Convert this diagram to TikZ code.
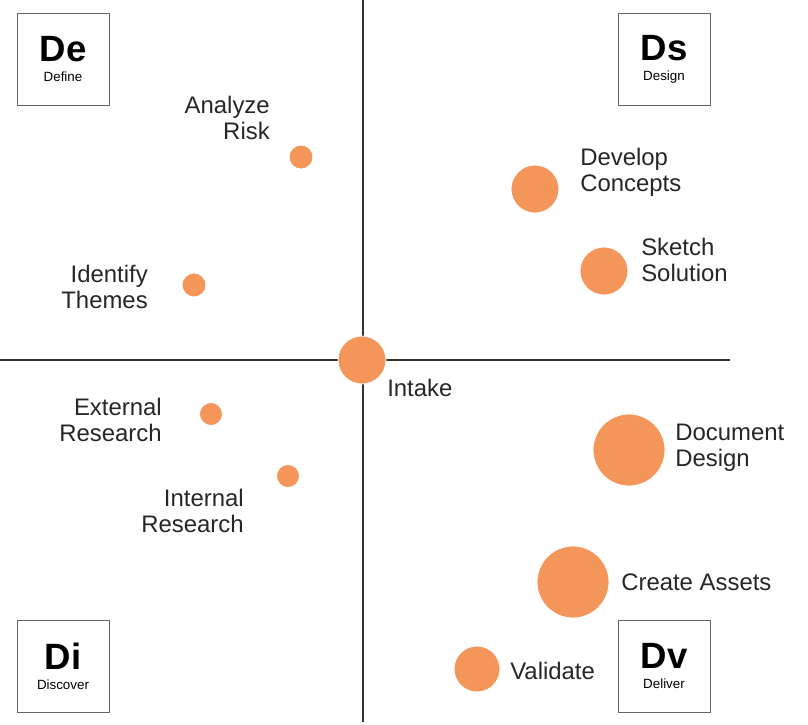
\documentclass[tikz,border=0pt]{standalone}
\usepackage{fontspec}
\setmainfont{Liberation Sans}
\definecolor{dot}{HTML}{F4955A}
\begin{document}
\begin{tikzpicture}[x=0.025cm,y=-0.025cm,
  dotnode/.style={fill=dot,draw=white,line width=0.6pt,circle,inner sep=0pt,minimum size=#1},
  lab/.style={font=\fontsize{17}{18.5}\selectfont,text=black!85,inner sep=0pt},
  quad/.style={draw=black!60,line width=0.6pt,minimum width=92*0.025cm,minimum height=92*0.025cm,inner sep=0pt,align=center}]
    \useasboundingbox (0,0) rectangle (808,724);
    % axes
    \coordinate (top) at (363,0);
    \coordinate (bot) at (363,722);
    \coordinate (lft) at (0,360);
    \coordinate (rgt) at (730,360);
    \draw[black!80,line width=0.8pt] (top) -- (bot);
    \draw[black!80,line width=0.8pt] (lft) -- (rgt);
    % quadrant boxes
    \node[quad,fill=white] (De) at (63,59) {{\fontsize{26}{28}\selectfont\bfseries De}\\[2pt]{\fontsize{9.5}{11}\selectfont Define}};
    \node[quad,fill=white] (Ds) at (664,59) {{\fontsize{26}{28}\selectfont\bfseries Ds}\\[2pt]{\fontsize{9.5}{11}\selectfont Design}};
    \node[quad,fill=white] (Di) at (63,666) {{\fontsize{26}{28}\selectfont\bfseries Di}\\[2pt]{\fontsize{9.5}{11}\selectfont Discover}};
    \node[quad,fill=white] (Dv) at (664,666) {{\fontsize{26}{28}\selectfont\bfseries Dv}\\[2pt]{\fontsize{9.5}{11}\selectfont Deliver}};
    % dots
    \node[dotnode=24*0.025cm] (risk) at (301,157) {};
    \node[dotnode=24*0.025cm] (themes) at (194,285) {};
    \node[dotnode=48*0.025cm] (concepts) at (535,189) {};
    \node[dotnode=48*0.025cm] (sketch) at (604,271) {};
    \node[dotnode=48*0.025cm] (intake) at (362,360) {};
    \node[dotnode=23*0.025cm] (ext) at (211,414) {};
    \node[dotnode=23*0.025cm] (int) at (288,476) {};
    \node[dotnode=72*0.025cm] (doc) at (629,450) {};
    \node[dotnode=72*0.025cm] (assets) at (573,582) {};
    \node[dotnode=46*0.025cm] (valid) at (477,669) {};
    % labels
    \node[lab,align=right,anchor=east] (riskL) at (270,118) {Analyze\\Risk};
    \node[lab,align=right,anchor=east] (themesL) at (148,287) {Identify\\Themes};
    \node[lab,align=left,anchor=west] (conceptsL) at (580,172) {Develop\\Concepts};
    \node[lab,align=left,anchor=west] (sketchL) at (641,260) {Sketch\\Solution};
    \node[lab,anchor=west] (intakeL) at (387,388) {Intake};
    \node[lab,align=right,anchor=east] (extL) at (162,420) {External\\Research};
    \node[lab,align=right,anchor=east] (intL) at (244,511) {Internal\\Research};
    \node[lab,align=left,anchor=west] (docL) at (675,448) {Document\\Design};
    \node[lab,anchor=west] (assetsL) at (621,582) {Create Assets};
    \node[lab,anchor=west] (validL) at (510,671) {Validate};
\end{tikzpicture}
\end{document}
